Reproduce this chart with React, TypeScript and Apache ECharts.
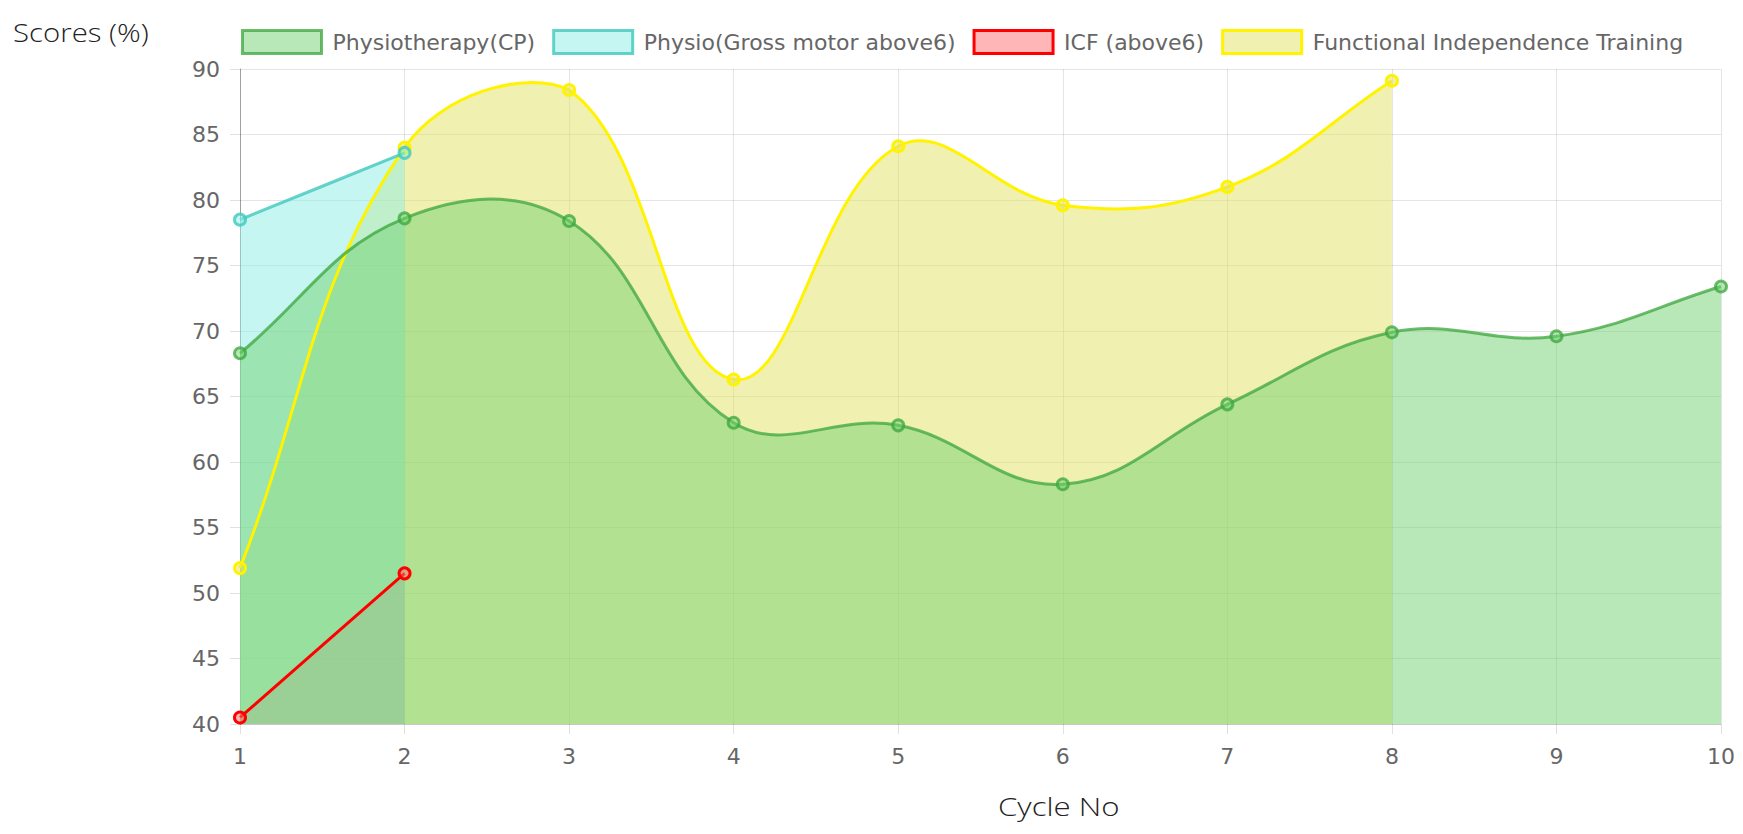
import React, { useEffect, useRef } from "react";
import * as echarts from "echarts";

const cycles = ["1", "2", "3", "4", "5", "6", "7", "8", "9", "10"];
const physiotherapyCP = [68.3, 78.6, 78.4, 63.0, 62.8, 58.3, 64.4, 69.9, 69.6, 73.4];
const physioGrossMotor = [78.5, 83.6];
const icfAbove6 = [40.5, 51.5];
const functionalIndependence = [51.9, 84.0, 88.4, 66.3, 84.1, 79.6, 81.0, 89.1];

const seriesNames = [
  "Physiotherapy(CP)",
  "Physio(Gross motor above6)",
  "ICF (above6)",
  "Functional Independence Training",
];
const lineColors = ["rgba(60,165,60,0.75)", "rgba(64,200,190,0.8)", "#ff0000", "rgb(255,243,0)"];
const fillColors = [
  "rgba(113,209,113,0.5)",
  "rgba(142,237,229,0.5)",
  "rgba(255,110,110,0.5)",
  "rgba(225,225,97,0.5)",
];
const seriesData = [physiotherapyCP, physioGrossMotor, icfAbove6, functionalIndependence];

const yTicksMin = 40;
const yTicksMax = 90;
const yTickStep = 5;

const TENSION = 0.4;

type Bounds = { left: number; right: number; top: number; bottom: number };

function splinePath(pts: number[][], t: number, b: Bounds): string {
  const n = pts.length;
  const cap = (p: number[]) => [
    Math.min(Math.max(p[0], b.left), b.right),
    Math.min(Math.max(p[1], b.top), b.bottom),
  ];
  const cps = pts.map((p, k) => {
    const prev = pts[k - 1] || p;
    const next = pts[k + 1] || p;
    const d01 = Math.hypot(p[0] - prev[0], p[1] - prev[1]);
    const d12 = Math.hypot(next[0] - p[0], next[1] - p[1]);
    let s01 = d01 / (d01 + d12);
    let s12 = d12 / (d01 + d12);
    if (!isFinite(s01)) s01 = 0;
    if (!isFinite(s12)) s12 = 0;
    const fa = t * s01;
    const fb = t * s12;
    return {
      prev: cap([p[0] - fa * (next[0] - prev[0]), p[1] - fa * (next[1] - prev[1])]),
      next: cap([p[0] + fb * (next[0] - prev[0]), p[1] + fb * (next[1] - prev[1])]),
    };
  });
  let d = `M${pts[0][0]},${pts[0][1]}`;
  for (let k = 1; k < n; k++) {
    const a = cps[k - 1].next;
    const c = cps[k].prev;
    d += ` C${a[0]},${a[1]} ${c[0]},${c[1]} ${pts[k][0]},${pts[k][1]}`;
  }
  return d;
}

export default function App() {
  const ref = useRef<HTMLDivElement>(null);
  useEffect(() => {
    if (!ref.current) return;
    const chart = echarts.init(ref.current, undefined, { renderer: "svg" });
    const tickFont = "'DejaVu Sans', sans-serif";
    const titleFont = "'Open Sans', 'Noto Sans', sans-serif";
    const order = [3, 2, 1, 0];

    const boundsOf = (api: any): Bounds => {
      const tl = api.coord([0, yTicksMax]);
      const br = api.coord([cycles.length - 1, yTicksMin]);
      return { left: tl[0], top: tl[1], right: br[0], bottom: br[1] };
    };

    const areaSeries = order.map((i) => ({
      type: "custom",
      name: "area-" + i,
      silent: true,
      data: [[0, yTicksMin]],
      z: 2,
      renderItem: (params: any, api: any) => {
        const b = boundsOf(api);
        const pts = seriesData[i].map((v, k) => api.coord([k, v]));
        const last = pts[pts.length - 1];
        const d =
          splinePath(pts, TENSION, b) +
          ` L${last[0]},${b.bottom} L${pts[0][0]},${b.bottom} Z`;
        return { type: "path", shape: { pathData: d }, style: { fill: fillColors[i] } };
      },
    }));

    const lineSeries = order.map((i) => ({
      type: "custom",
      name: seriesNames[i],
      silent: true,
      data: [[0, yTicksMin]],
      z: 3,
      itemStyle: { color: fillColors[i], borderColor: lineColors[i] },
      renderItem: (params: any, api: any) => {
        const b = boundsOf(api);
        const pts = seriesData[i].map((v, k) => api.coord([k, v]));
        const children: any[] = [
          {
            type: "path",
            shape: { pathData: splinePath(pts, TENSION, b) },
            style: { fill: "none", stroke: lineColors[i], lineWidth: 3 },
          },
        ];
        pts.forEach((p) => {
          children.push({
            type: "circle",
            shape: { cx: p[0], cy: p[1], r: 5.5 },
            style: { fill: fillColors[i], stroke: lineColors[i], lineWidth: 3 },
          });
        });
        return { type: "group", children };
      },
    }));

    chart.setOption({
      animation: false,
      backgroundColor: "#ffffff",
      grid: { left: 240, right: 22, top: 69, bottom: 110, containLabel: false },
      legend: {
        left: 236,
        top: 24,
        itemWidth: 79,
        itemHeight: 23,
        itemGap: 17,
        selectedMode: false,
        textStyle: { fontFamily: tickFont, fontSize: 22, color: "#666", padding: [0, 0, 0, 6] },
        data: seriesNames.map((n, i) => ({
          name: n,
          icon: "rect",
          itemStyle: { color: fillColors[i], borderColor: lineColors[i], borderWidth: 3 },
        })),
      },
      xAxis: {
        type: "category",
        data: cycles,
        boundaryGap: false,
        axisLine: { show: true, lineStyle: { color: "rgba(0,0,0,0.12)", width: 1 } },
        axisTick: { show: true, length: 10, lineStyle: { color: "rgba(0,0,0,0.12)" } },
        splitLine: { show: true, lineStyle: { color: "rgba(0,0,0,0.1)", width: 1 } },
        axisLabel: { fontFamily: tickFont, fontSize: 22, color: "#666", margin: 21 },
      },
      yAxis: {
        type: "value",
        min: yTicksMin,
        max: yTicksMax,
        interval: yTickStep,
        axisLine: { show: true, lineStyle: { color: "rgba(0,0,0,0.3)", width: 1 } },
        axisTick: { show: true, length: 10, lineStyle: { color: "rgba(0,0,0,0.12)" } },
        splitLine: { show: true, lineStyle: { color: "rgba(0,0,0,0.1)", width: 1 } },
        axisLabel: { fontFamily: tickFont, fontSize: 22, color: "#666", margin: 20 },
      },
      graphic: [
        {
          type: "text",
          x: 13,
          y: 19,
          scaleX: 1.13,
          style: {
            text: "Scores (%)",
            fontFamily: titleFont,
            fontWeight: 300,
            fontSize: 26,
            fill: "#222",
            verticalAlign: "top",
          },
        },
        {
          type: "text",
          x: 998,
          y: 793,
          scaleX: 1.2,
          style: {
            text: "Cycle No",
            fontFamily: titleFont,
            fontWeight: 300,
            fontSize: 26,
            fill: "#222",
            verticalAlign: "top",
          },
        },
      ],
      series: [...areaSeries, ...lineSeries],
    });
    return () => chart.dispose();
  }, []);
  return (
    <div
      ref={ref}
      style={{ position: "fixed", left: 0, top: 0, width: "1743px", height: "834px" }}
    />
  );
}
